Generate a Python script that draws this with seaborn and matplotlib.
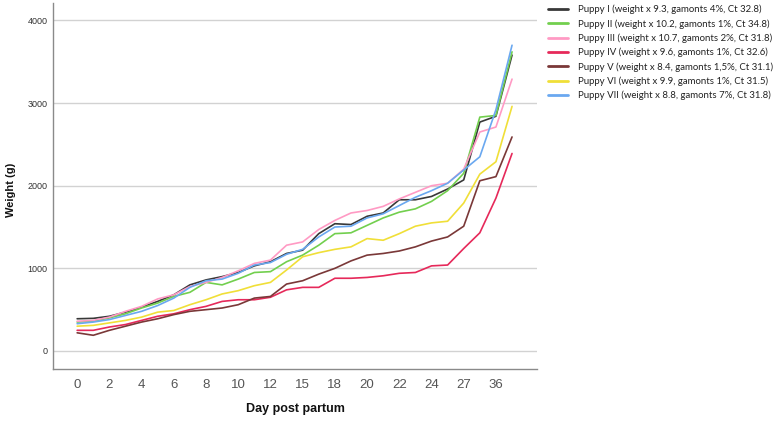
import matplotlib
matplotlib.use("Agg")
import matplotlib.pyplot as plt
import numpy as np
import pandas as pd
import seaborn as sns

days = ["0", "1", "2", "3", "4", "5", "6", "7", "8", "9", "10", "11", "12", "14",
        "15", "17", "18", "19", "20", "21", "22", "23", "24", "25", "27", "30", "36", "42"]
tick_days = ["0", "2", "4", "6", "8", "10", "12", "15", "18", "20", "22", "24", "27", "36"]

puppy_labels = [
    "Puppy I (weight x 9.3, gamonts 4%, Ct 32.8)",
    "Puppy II (weight x 10.2, gamonts 1%, Ct 34.8)",
    "Puppy III (weight x 10.7, gamonts 2%, Ct 31.8)",
    "Puppy IV (weight x 9.6, gamonts 1%, Ct 32.6)",
    "Puppy V (weight x 8.4, gamonts 1,5%, Ct 31.1)",
    "Puppy VI (weight x 9.9, gamonts 1%, Ct 31.5)",
    "Puppy VII (weight x 8.8, gamonts 7%, Ct 31.8)",
]

puppy_1 = [390, 395, 420, 470, 530, 600, 680, 800, 860, 900, 950, 1030, 1080, 1180,
           1220, 1420, 1540, 1530, 1630, 1670, 1830, 1830, 1870, 1960, 2070, 2770, 2840, 3580]
puppy_2 = [350, 360, 400, 450, 520, 580, 660, 710, 830, 800, 870, 950, 960, 1080,
           1160, 1280, 1420, 1430, 1520, 1610, 1680, 1720, 1810, 1940, 2150, 2830, 2850, 3620]
puppy_3 = [360, 370, 410, 480, 540, 630, 680, 780, 830, 890, 970, 1060, 1100, 1280,
           1320, 1470, 1580, 1670, 1700, 1750, 1840, 1920, 2000, 2030, 2200, 2650, 2710, 3290]
puppy_4 = [250, 250, 290, 320, 370, 420, 450, 500, 540, 600, 620, 620, 650, 740,
           770, 770, 880, 880, 890, 910, 940, 950, 1030, 1040, 1240, 1430, 1850, 2390]
puppy_5 = [220, 190, 250, 300, 350, 390, 440, 480, 500, 520, 560, 640, 660, 810,
           850, 930, 1000, 1090, 1160, 1180, 1210, 1260, 1330, 1380, 1510, 2060, 2110, 2590]
puppy_6 = [300, 310, 340, 370, 410, 470, 490, 560, 620, 690, 730, 790, 830, 980,
           1140, 1190, 1230, 1260, 1360, 1340, 1420, 1510, 1550, 1570, 1790, 2140, 2290, 2960]
puppy_7 = [330, 350, 380, 430, 480, 550, 640, 770, 850, 870, 940, 1040, 1070, 1170,
           1230, 1380, 1500, 1510, 1610, 1660, 1760, 1860, 1940, 2030, 2190, 2350, 2920, 3700]

colors = ["#383838", "#72cf4e", "#ff9ac4", "#e6295a", "#7a3838", "#f0df38", "#6aa8f0"]

series = [puppy_1, puppy_2, puppy_3, puppy_4, puppy_5, puppy_6, puppy_7]
frames = []
for lab, vals in zip(puppy_labels, series):
    frames.append(pd.DataFrame({"day": days, "weight": vals, "puppy": lab}))
df = pd.concat(frames, ignore_index=True)

sns.set_theme(style="white")
plt.rcParams["font.family"] = ["Liberation Sans", "DejaVu Sans"]

W, H = 779, 421
fig = plt.figure(figsize=(W / 100, H / 100), dpi=100)
ax = fig.add_axes([53 / W, (H - 369) / H, (537 - 53) / W, (369 - 3) / H])

sns.lineplot(data=df, x="day", y="weight", hue="puppy", hue_order=puppy_labels,
             palette=colors, linewidth=1.2, sort=False, estimator=None, ax=ax,
             legend=True)

ax.set_xlim(-1.5, 28.55)
ax.set_ylim(-218, 4211)
ax.set_yticks([0, 1000, 2000, 3000, 4000])
ax.set_yticklabels(["0", "1000", "2000", "3000", "4000"])
ax.set_xticks(list(range(0, len(days), 2)))
ax.set_xticklabels(tick_days)
ax.yaxis.grid(True, color="#d2d2d2", linewidth=1.0)
ax.xaxis.grid(False)
ax.set_axisbelow(True)
for s in ["top", "right"]:
    ax.spines[s].set_visible(False)
for s in ["left", "bottom"]:
    ax.spines[s].set_color("#8a8a8a")
    ax.spines[s].set_linewidth(1.0)
ax.tick_params(axis="y", length=0, pad=4, labelsize=6.5, labelcolor="#333333")
ax.tick_params(axis="x", length=0, pad=7, labelsize=9.5, labelcolor="#555555")

ax.set_xlabel("Day post partum", fontsize=9, fontweight="bold", color="#111111")
ax.set_ylabel("Weight (g)", fontsize=8, fontweight="bold", color="#111111")
ax.xaxis.set_label_coords((295 - 53) / 484, (369 - 403) / 366)
ax.yaxis.set_label_coords((16 - 53) / 484, (369 - 190) / 366)

handles, labels = ax.get_legend_handles_labels()
ax.get_legend().remove()
for h in handles:
    h.set_linewidth(2.0)

# size legend font so the first label spans ~185 px like the reference
renderer = fig.canvas.get_renderer()
probe = fig.text(0, 0, puppy_labels[0], family="Lato", size=10)
wpx = probe.get_window_extent(renderer).width
probe.remove()
leg_size = 10 * 185 / wpx
fs_px = leg_size * 100 / 72
leg = fig.legend(handles, labels, loc="upper left",
                 bbox_to_anchor=(546 / W, 1 - 3 / H),
                 borderaxespad=0, borderpad=0.2,
                 frameon=False, prop={"family": "Lato", "size": leg_size},
                 handlelength=20 / fs_px, handletextpad=10 / fs_px,
                 labelspacing=(14.2 - 1.2 * fs_px + 2.2) / fs_px)
for t in leg.get_texts():
    t.set_color("#222222")

fig.savefig("out.png", dpi=100)
